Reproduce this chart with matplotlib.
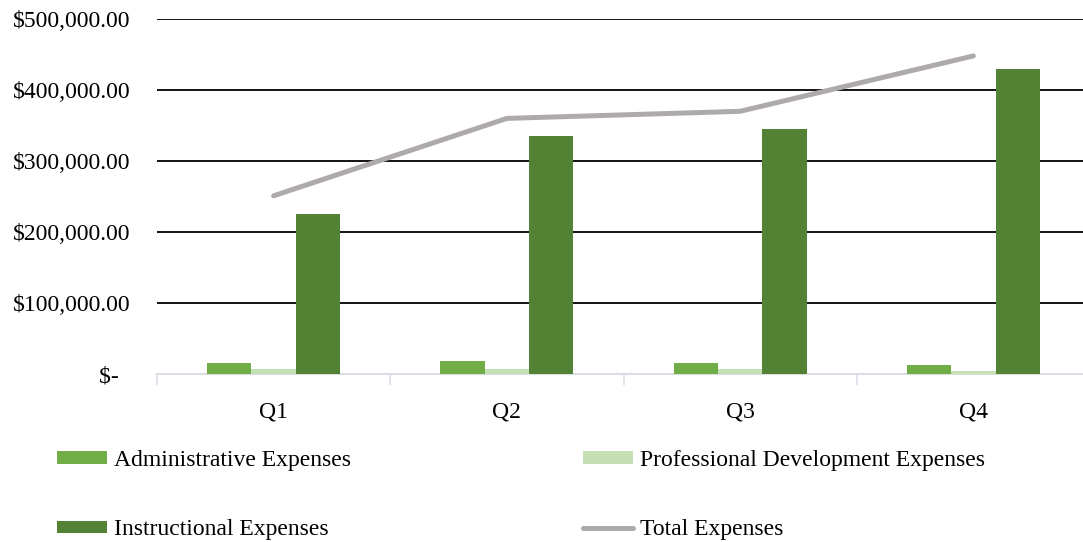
import matplotlib
matplotlib.use("Agg")
import matplotlib.pyplot as plt
import numpy as np
from matplotlib.ticker import FixedLocator, FuncFormatter

plt.rcParams['font.family'] = ['Liberation Serif', 'DejaVu Serif']

quarters = ["Q1", "Q2", "Q3", "Q4"]
admin = [15500, 18000, 15500, 12500]
prof_dev = [6500, 6500, 6500, 4000]
instructional = [225000, 335000, 345000, 430000]
total = [251000, 360000, 370000, 448000]

c_admin = "#70AD47"
c_pd = "#C5E0B4"
c_instr = "#548235"
c_total = "#AEAAAA"
FS = 17

W, H = 1083, 542
fig = plt.figure(figsize=(W / 100, H / 100), dpi=100)
left_px, right_px, top_px, bot_px = 157, 1090, 19, 374
ax = fig.add_axes([left_px / W, 1 - bot_px / H, (right_px - left_px) / W, (bot_px - top_px) / H])

x = np.arange(len(quarters))
bw = 0.19
h_admin = ax.bar(x - bw, admin, bw, color=c_admin, label="Administrative Expenses", zorder=3)
h_pd = ax.bar(x, prof_dev, bw, color=c_pd, label="Professional Development Expenses", zorder=3)
h_instr = ax.bar(x + bw, instructional, bw, color=c_instr, label="Instructional Expenses", zorder=3)
h_total, = ax.plot(x, total, color=c_total, lw=3.6, solid_capstyle="round", label="Total Expenses", zorder=4)

ax.set_xlim(-0.5, len(quarters) - 0.5)
ax.set_ylim(0, 500000)

yt = [0, 100000, 200000, 300000, 400000, 500000]
ax.yaxis.set_major_locator(FixedLocator(yt))
ax.yaxis.set_major_formatter(FuncFormatter(lambda v, p: "$-  " if v == 0 else f"${v:,.2f}"))
ax.tick_params(axis="y", length=0, pad=19, labelsize=FS, colors="black")
for v in yt[1:]:
    ax.axhline(v, color="black", lw=1.3, zorder=1)

ax.xaxis.set_major_locator(FixedLocator(np.arange(len(quarters) + 1) - 0.5))
ax.xaxis.set_major_formatter(FuncFormatter(lambda v, p: ""))
ax.xaxis.set_minor_locator(FixedLocator(x))
ax.set_xticklabels(quarters, minor=True)
ax.tick_params(axis="x", which="major", length=8, width=1.2, color="#D9DEE5")
ax.tick_params(axis="x", which="minor", length=0, pad=20, labelsize=FS)

for s in ["top", "right", "left"]:
    ax.spines[s].set_visible(False)
ax.spines["bottom"].set_color("#D9DEE5")
ax.spines["bottom"].set_linewidth(1.5)
ax.spines["bottom"].set_zorder(2)

# column-major fill: col1 = Admin, Instr ; col2 = PD, Total
hs = [h_admin, h_instr, h_pd, h_total]
ls = [h.get_label() for h in hs]
leg = fig.legend(hs, ls,
                 ncol=2, loc="upper left", bbox_to_anchor=(57 / W, 1 - 450 / H),
                 frameon=False, fontsize=FS, handlelength=2.1, handleheight=0.45,
                 handletextpad=0.3, columnspacing=9.85, labelspacing=2.05,
                 borderaxespad=0, borderpad=0)

fig.savefig("out.png", dpi=100, facecolor="white")
